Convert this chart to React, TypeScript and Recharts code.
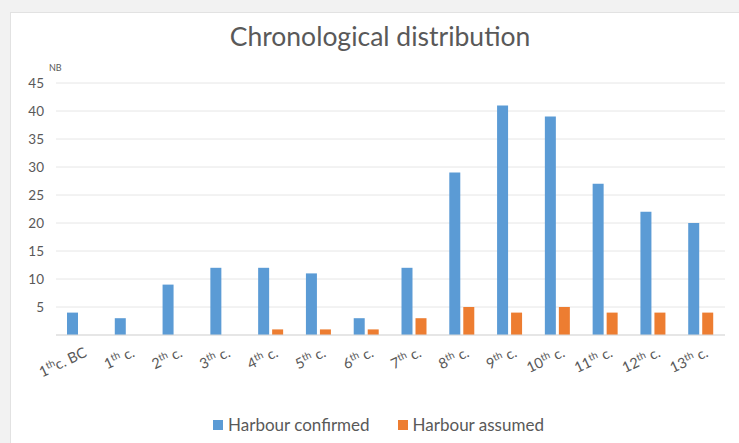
import { BarChart, Bar, XAxis, YAxis, CartesianGrid, Legend } from "recharts";

const centuries = [
  "1thc. BC", "1th c.", "2th c.", "3th c.", "4th c.", "5th c.", "6th c.",
  "7th c.", "8th c.", "9th c.", "10th c.", "11th c.", "12th c.", "13th c.",
];
const confirmed = [4, 3, 9, 12, 12, 11, 3, 12, 29, 41, 39, 27, 22, 20];
const assumed = [0, 0, 0, 0, 1, 1, 1, 3, 5, 4, 5, 4, 4, 4];
const yTicks = [0, 5, 10, 15, 20, 25, 30, 35, 40, 45];
const seriesNames = ["Harbour confirmed", "Harbour assumed"];
const seriesColors = ["#5b9bd5", "#ed7d31"];

const data = centuries.map((c, i) => ({ century: c, confirmed: confirmed[i], assumed: assumed[i] }));

const FONT = "Lato, 'Open Sans', sans-serif";
const GREY = "#595959";

function CenturyTick({ x, y, payload }: any) {
  const m = /^(\d+)th(.*)$/.exec(payload.value) || [payload.value, payload.value, ""];
  return (
    <g transform={`translate(${x + 8},${y + 13}) rotate(-25)`}>
      <text textAnchor="end" fill={GREY} fontSize={14.5} fontFamily={FONT}>
        <tspan>{m[1]}</tspan>
        <tspan fontSize={10} dy={-5}>th</tspan>
        <tspan dy={5}>{m[2]}</tspan>
      </text>
    </g>
  );
}

function LegendContent() {
  return (
    <div style={{ display: "flex", justifyContent: "center", gap: 28, paddingLeft: 32, fontFamily: FONT, fontSize: 17, color: GREY }}>
      {seriesNames.map((n, i) => (
        <div key={n} style={{ display: "flex", alignItems: "center", gap: 5 }}>
          <span style={{ width: 10, height: 10, background: seriesColors[i], display: "inline-block" }} />
          <span>{n}</span>
        </div>
      ))}
    </div>
  );
}

export default function App() {
  return (
    <div style={{ position: "absolute", left: 0, top: 0, width: 739, height: 443, background: "#f2f2f2", overflow: "hidden" }}>
      <div style={{ position: "absolute", left: 10, top: 12, width: 740, height: 440, background: "#fff", border: "1px solid #e2e2e2" }} />
      <div style={{ position: "absolute", left: 10, width: 740, top: 20, textAlign: "center", fontFamily: FONT, fontSize: 26.5, color: GREY }}>
        Chronological distribution
      </div>
      <div style={{ position: "absolute", left: 49, top: 62, fontFamily: FONT, fontSize: 9, color: GREY }}>NB</div>
      <div style={{ position: "absolute", left: 0, top: 0 }}>
        <BarChart
          width={739}
          height={443}
          data={data}
          margin={{ top: 83, right: 14, left: 0, bottom: 37 }}
          barSize={11}
          barGap={3}
        >
          <CartesianGrid vertical={false} stroke="#e6e6e6" />
          <XAxis
            dataKey="century"
            tick={<CenturyTick />}
            tickLine={false}
            axisLine={{ stroke: "#d9d9d9" }}
            interval={0}
            height={50}
          />
          <YAxis
            domain={[0, 45]}
            ticks={yTicks}
            tickFormatter={(v: number) => (v === 0 ? "" : String(v))}
            axisLine={false}
            tickLine={false}
            tickSize={0}
            tickMargin={12}
            width={56}
            tick={{ fill: GREY, fontSize: 13.5, fontFamily: FONT }}
          />
          <Legend verticalAlign="bottom" content={<LegendContent />} wrapperStyle={{ bottom: 8 }} />
          <Bar dataKey="confirmed" name={seriesNames[0]} fill={seriesColors[0]} isAnimationActive={false} />
          <Bar dataKey="assumed" name={seriesNames[1]} fill={seriesColors[1]} isAnimationActive={false} />
        </BarChart>
      </div>
    </div>
  );
}
